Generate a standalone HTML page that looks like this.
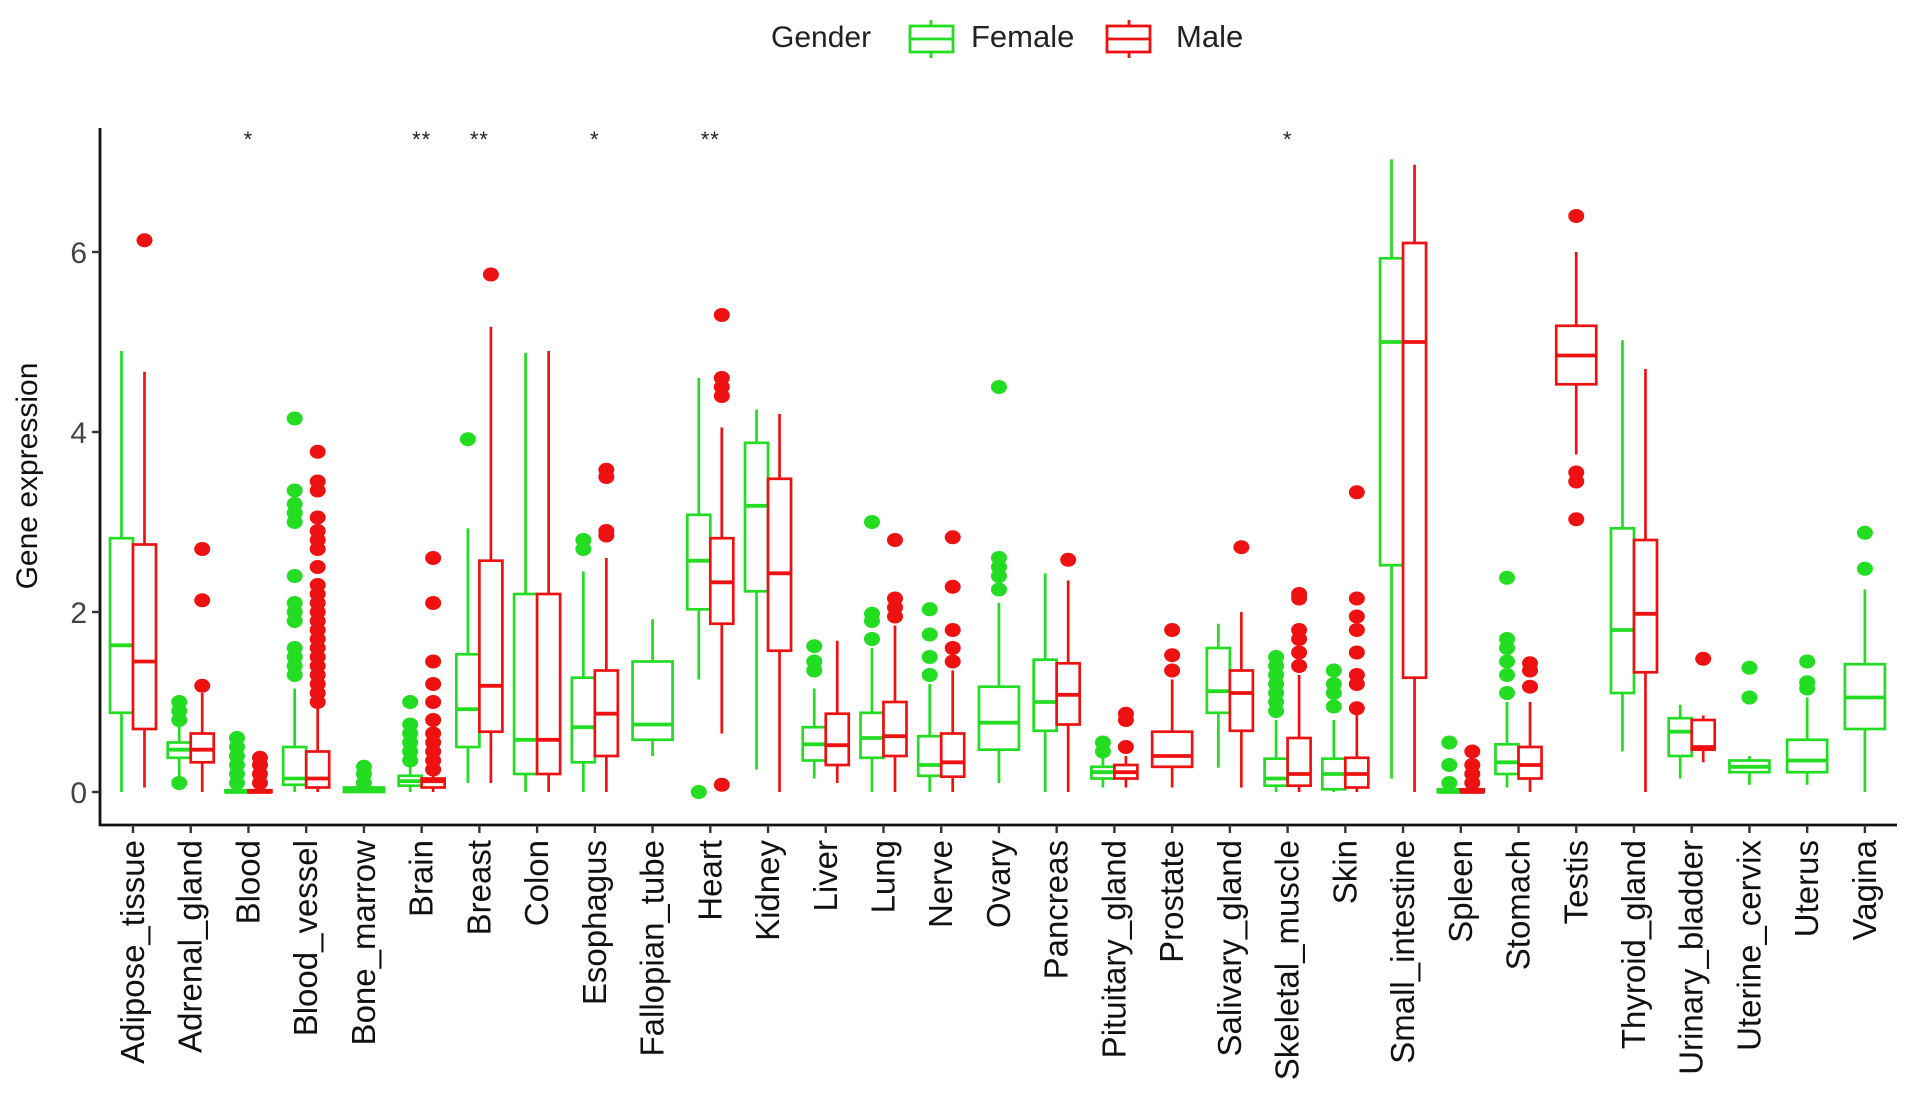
<!DOCTYPE html>
<html><head><meta charset="utf-8"><style>
html,body{margin:0;padding:0;background:#fff;}
svg{display:block;font-family:"Liberation Sans",Arial,sans-serif;}
</style></head><body>
<svg id="chart" width="1913" height="1095" viewBox="0 0 1913 1095" xmlns="http://www.w3.org/2000/svg">
<g>
<text x="771" y="47" font-size="30" fill="#222">Gender</text>
<g>
<line x1="931" y1="20" x2="931" y2="58" stroke="#22dd22" stroke-width="2.8"/>
<rect x="910" y="26" width="43" height="26" fill="#fff" stroke="#22dd22" stroke-width="2.8"/>
<line x1="910" y1="39" x2="953" y2="39" stroke="#22dd22" stroke-width="2.8"/>
<text x="971" y="47" font-size="31" fill="#222">Female</text></g>
<g>
<line x1="1129" y1="20" x2="1129" y2="58" stroke="#ee1111" stroke-width="2.8"/>
<rect x="1107" y="26" width="43" height="26" fill="#fff" stroke="#ee1111" stroke-width="2.8"/>
<line x1="1107" y1="39" x2="1150" y2="39" stroke="#ee1111" stroke-width="2.8"/>
<text x="1176" y="47" font-size="31" fill="#222">Male</text></g>
</g>
<g id="plot"></g>
</svg>
<script>
const categories=["Adipose_tissue","Adrenal_gland","Blood","Blood_vessel","Bone_marrow","Brain","Breast","Colon","Esophagus","Fallopian_tube","Heart","Kidney","Liver","Lung","Nerve","Ovary","Pancreas","Pituitary_gland","Prostate","Salivary_gland","Skeletal_muscle","Skin","Small_intestine","Spleen","Stomach","Testis","Thyroid_gland","Urinary_bladder","Uterine_cervix","Uterus","Vagina"];
// [wlo,q1,med,q3,whi] or null
const femaleStats=[[0,0.88,1.63,2.82,4.9],[0.15,0.38,0.47,0.55,0.75],[0,0,0,0.02,0],[0,0.08,0.15,0.5,1.15],[0,0,0.02,0.05,0.05],[0,0.07,0.12,0.18,0.3],[0.1,0.5,0.92,1.53,2.93],[0,0.2,0.58,2.2,4.88],[0,0.33,0.72,1.27,2.45],[0.4,0.58,0.75,1.45,1.92],[1.25,2.03,2.57,3.08,4.6],[0.25,2.23,3.18,3.88,4.25],[0.15,0.35,0.53,0.72,1.15],[0,0.38,0.6,0.88,1.6],[0,0.18,0.3,0.62,1.2],[0.1,0.47,0.77,1.17,2.1],[0,0.68,1.0,1.47,2.43],[0.05,0.15,0.22,0.28,0.4],null,[0.27,0.88,1.12,1.6,1.87],[0,0.07,0.15,0.37,0.8],[0,0.03,0.2,0.37,0.8],[0.15,2.52,5.0,5.93,7.03],[0,0,0,0.03,0.03],[0.05,0.2,0.33,0.53,1.0],null,[0.45,1.1,1.8,2.93,5.02],[0.15,0.4,0.67,0.82,0.97],[0.08,0.22,0.28,0.35,0.4],[0.08,0.22,0.35,0.58,1.05],[0,0.7,1.05,1.42,2.25]];
const femaleOutliers=[[],[0.1,0.8,0.9,1.0],[0.1,0.2,0.3,0.4,0.5,0.6],[1.3,1.4,1.5,1.6,1.9,2.0,2.1,2.4,3.0,3.1,3.2,3.35,4.15],[0.1,0.2,0.28],[0.35,0.45,0.55,0.65,0.75,1.0],[3.92],[],[2.7,2.8],[],[0],[],[1.35,1.45,1.62],[1.7,1.9,1.98,3.0],[1.3,1.5,1.75,2.03],[2.25,2.4,2.5,2.6,4.5],[],[0.45,0.55],[],[],[0.9,1.0,1.1,1.2,1.3,1.4,1.5],[0.95,1.1,1.2,1.35],[],[0.1,0.3,0.55],[1.1,1.3,1.45,1.6,1.7,2.38],[],[],[],[1.05,1.38],[1.15,1.22,1.45],[2.48,2.88]];
const maleStats=[[0.05,0.7,1.45,2.75,4.67],[0,0.33,0.47,0.65,1.1],[0,0,0,0.02,0],[0,0.05,0.15,0.45,0.95],null,[0,0.05,0.12,0.15,0.18],[0.1,0.67,1.18,2.57,5.17],[0,0.2,0.58,2.2,4.9],[0,0.4,0.87,1.35,2.6],null,[0.65,1.87,2.33,2.82,4.05],[0,1.57,2.43,3.48,4.2],[0.1,0.3,0.52,0.87,1.68],[0,0.4,0.62,1.0,1.85],[0,0.17,0.33,0.65,1.35],null,[0,0.75,1.08,1.43,2.35],[0.05,0.15,0.22,0.3,0.4],[0.05,0.28,0.4,0.67,1.25],[0.05,0.68,1.1,1.35,2.0],[0,0.07,0.2,0.6,1.3],[0,0.05,0.2,0.38,0.9],[0,1.27,5.0,6.1,6.97],[0,0,0,0.03,0.03],[0,0.15,0.3,0.5,1.0],[3.75,4.53,4.85,5.18,6.0],[0,1.33,1.98,2.8,4.7],[0.33,0.47,0.5,0.8,0.85],null,null,null];
const maleOutliers=[[6.13],[1.18,2.13,2.7],[0.1,0.2,0.3,0.38],[1.0,1.1,1.2,1.3,1.4,1.5,1.6,1.7,1.8,1.9,2.0,2.1,2.2,2.3,2.5,2.7,2.8,2.9,3.05,3.35,3.45,3.78],[],[0.25,0.35,0.45,0.55,0.65,0.8,1.0,1.2,1.45,2.1,2.6],[5.75],[],[2.85,2.9,3.5,3.58],[],[0.08,4.4,4.5,4.6,5.3],[],[],[1.95,2.05,2.15,2.8],[1.45,1.6,1.8,2.28,2.83],[],[2.58],[0.5,0.8,0.87],[1.35,1.52,1.8],[2.72],[1.4,1.55,1.7,1.8,2.15,2.2],[0.93,1.2,1.3,1.55,1.8,1.95,2.15,3.33],[],[0.1,0.2,0.3,0.45],[1.17,1.35,1.43],[3.03,3.45,3.55,6.4],[],[1.48],[],[],[]];
const significance=["","","*","","","**","**","","*","","**","","","","","","","","","","*","","","","","","","","","",""];
const yTicks=[0,2,4,6];

const NS="http://www.w3.org/2000/svg";
const plot=document.getElementById('plot');
const X0=100,X1=1897,YB=825,YT=128;
const y=v=>792-v*90;
const x=i=>133+i*57.73;
const G="#22dd22",R="#ee1111";
function el(tag,attrs,parent){const e=document.createElementNS(NS,tag);for(const k in attrs)e.setAttribute(k,attrs[k]);(parent||plot).appendChild(e);return e;}

const axes=el('g',{});


const ya=el('line',{x1:X0,y1:YT,x2:X0,y2:YB+1,stroke:'#111','stroke-width':2.8},axes);


const xa=el('line',{x1:X0-1,y1:YB,x2:X1,y2:YB,stroke:'#111','stroke-width':2.8},axes);


yTicks.forEach(t=>{
  el('line',{x1:X0-8,y1:y(t),x2:X0,y2:y(t),stroke:'#333','stroke-width':2.4},axes);
  const tx=el('text',{x:X0-13,y:y(t)+11,'font-size':30,fill:'#444','text-anchor':'end'},axes);
  tx.textContent=t;
  
  
});
const yt=el('text',{x:0,y:0,'font-size':30,fill:'#111','text-anchor':'middle',transform:'translate(37,476) rotate(-90)'},axes);
yt.textContent='Gene expression';



function drawBox(s,outs,cx,w,col,name){
  const g=el('g',{});
  
  
  if(s){
    el('line',{x1:cx,y1:y(s[0]),x2:cx,y2:y(s[4]),stroke:col,'stroke-width':2.7},g);
    el('rect',{x:cx-w/2,y:y(s[3]),width:w,height:Math.max(1,y(s[1])-y(s[3])),fill:'#fff',stroke:col,'stroke-width':2.7},g);
    el('line',{x1:cx-w/2,y1:y(s[2]),x2:cx+w/2,y2:y(s[2]),stroke:col,'stroke-width':3.8},g);
  }
  outs.forEach(v=>el('ellipse',{cx:cx,cy:y(v),rx:8,ry:7,fill:col},g));
}
categories.forEach((c,i)=>{
  const cx=x(i);
  el('line',{x1:cx,y1:YB,x2:cx,y2:YB+8,stroke:'#333','stroke-width':2.4});
  const both=femaleStats[i]&&maleStats[i];
  if(both){
    drawBox(femaleStats[i],femaleOutliers[i],cx-11.5,23,G,'box-female-'+c.toLowerCase());
    drawBox(maleStats[i],maleOutliers[i],cx+11.5,23,R,'box-male-'+c.toLowerCase());
  }else if(femaleStats[i]){
    drawBox(femaleStats[i],femaleOutliers[i],cx,40,G,'box-female-'+c.toLowerCase());
  }else{
    drawBox(maleStats[i],maleOutliers[i],cx,40,R,'box-male-'+c.toLowerCase());
  }
  const t=el('text',{x:0,y:0,'font-size':33,fill:'#111','text-anchor':'end',transform:`translate(${cx+11},840) rotate(-90)`});
  t.textContent=c;
  
  
  if(significance[i]){
    const s=el('text',{x:cx,y:147,'font-size':22,fill:'#222','text-anchor':'middle','letter-spacing':'1'});
    s.textContent=significance[i];
    
    
  }
});
</script>
</body></html>
